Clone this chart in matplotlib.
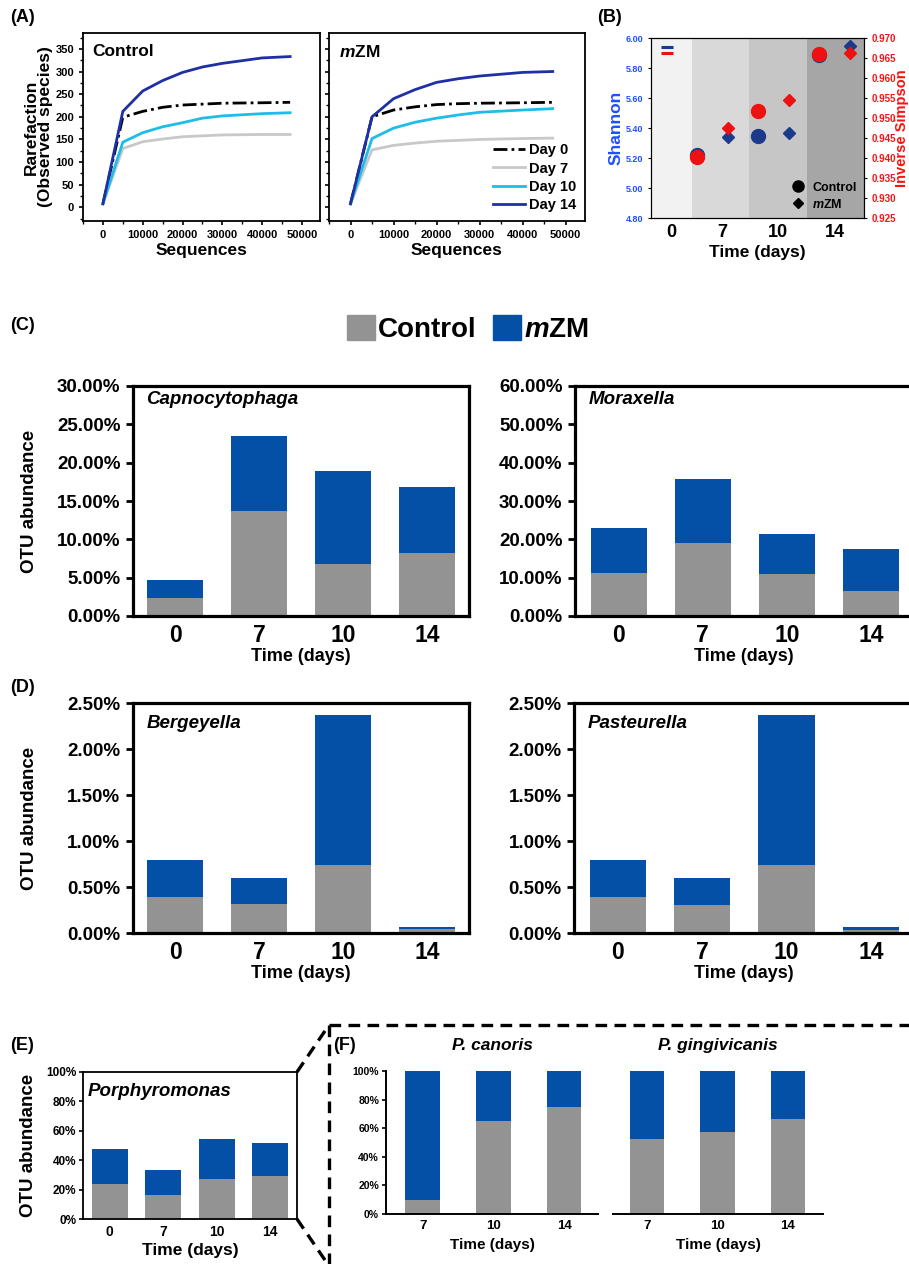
import numpy as np
import matplotlib
matplotlib.use("Agg")
import matplotlib.pyplot as plt
from matplotlib.lines import Line2D
from matplotlib.patches import Patch
from matplotlib.ticker import PercentFormatter, MultipleLocator

plt.rcParams['font.family'] = ['Liberation Sans', 'DejaVu Sans']
plt.rcParams['font.weight'] = 'bold'
plt.rcParams['axes.labelweight'] = 'bold'
plt.rcParams['mathtext.fontset'] = 'custom'
plt.rcParams['mathtext.it'] = 'Liberation Sans:italic:bold'
plt.rcParams['mathtext.rm'] = 'Liberation Sans:bold'

# ---- data ----
# (A) rarefaction curves
depth = [0, 5000, 10000, 15000, 20000, 25000, 30000, 40000, 47000]
rare_days = ['Day 0', 'Day 7', 'Day 10', 'Day 14']
ctrl_rare = {
    'Day 0': [8, 199, 212, 221, 226, 228, 230, 231, 232],
    'Day 7': [8, 130, 145, 151, 156, 158, 160, 161, 161],
    'Day 10': [8, 144, 165, 178, 187, 197, 202, 207, 209],
    'Day 14': [8, 212, 257, 280, 298, 310, 318, 330, 333],
}
mzm_rare = {
    'Day 0': [8, 200, 215, 222, 227, 229, 230, 231, 232],
    'Day 7': [8, 127, 137, 142, 146, 148, 150, 152, 153],
    'Day 10': [8, 152, 175, 188, 197, 204, 210, 215, 218],
    'Day 14': [8, 200, 240, 260, 276, 284, 290, 298, 300],
}

# (B) diversity indices
b_days = ['0', '7', '10', '14']
shannon_day0 = 5.94
simpson_day0 = 0.9663
shannon_ctrl = [5.22, 5.35, 5.885]
shannon_mzm = [5.34, 5.365, 5.945]
simpson_ctrl = [0.9402, 0.9517, 0.9661]
simpson_mzm = [0.9474, 0.9546, 0.9663]

# (C)-(E) genus abundance (%)
days = ['0', '7', '10', '14']
capno_ctrl = [2.35, 13.65, 6.78, 8.26]
capno_mzm = [2.30, 9.87, 12.18, 8.52]
morax_ctrl = [11.3, 19.1, 10.96, 6.5]
morax_mzm = [11.6, 16.55, 10.44, 10.9]
berge_ctrl = [0.39, 0.31, 0.74, 0.047]
berge_mzm = [0.40, 0.29, 1.63, 0.022]
paste_ctrl = [0.392, 0.309, 0.734, 0.036]
paste_mzm = [0.40, 0.294, 1.635, 0.029]
porph_ctrl = [23.8, 16.5, 27.4, 29.2]
porph_mzm = [23.5, 16.8, 26.7, 22.8]

# (F) species share (%)
f_days = ['7', '10', '14']
canoris_ctrl = [10, 65.2, 75]
canoris_mzm = [90, 34.8, 25]
ging_ctrl = [52.2, 57.5, 66.1]
ging_mzm = [47.8, 42.5, 33.9]

GRAY = '#939393'
BLUE = '#0450a6'
rare_colors = {'Day 0': 'black', 'Day 7': '#c8c8c8', 'Day 10': '#1cbde8', 'Day 14': '#1f2fa6'}
MZM = r'$\mathit{m}$ZM'

W, H = 909, 1264
fig = plt.figure(figsize=(W / 100, H / 100), dpi=100)


def box(l, r, t, b):
    return fig.add_axes([l / W, 1 - b / H, (r - l) / W, (b - t) / H])


# ---- (A) ----
for i, (data, name) in enumerate([(ctrl_rare, 'Control'), (mzm_rare, MZM)]):
    ax = box(83, 320, 33, 221) if i == 0 else box(329, 585, 33, 221)
    for d in rare_days:
        ls = (0, (5, 1.5, 1, 1.5)) if d == 'Day 0' else '-'
        ax.plot(depth, data[d], color=rare_colors[d], lw=2, ls=ls, label=d)
    ax.set_xlim(-5000, 54500)
    ax.set_ylim(-30, 385)
    ax.set_xticks([0, 10000, 20000, 30000, 40000, 50000])
    ax.xaxis.set_minor_locator(MultipleLocator(5000))
    ax.set_yticks(range(0, 351, 50))
    ax.yaxis.set_minor_locator(MultipleLocator(25))
    ax.tick_params(labelsize=8, length=3, width=1.2)
    ax.tick_params(which='minor', length=2, width=1.0)
    for s in ax.spines.values():
        s.set_linewidth(1.3)
    ax.text(0.04, 0.9, name, transform=ax.transAxes, fontsize=12.5, va='center')
    ax.set_xlabel('Sequences', fontsize=12.5)
    ax.xaxis.set_label_coords(0.5, -0.115)
    ax.xaxis.label.set_va('top')
    if i == 0:
        ax.set_ylabel('Rarefaction\n(Observed species)', fontsize=12.5, linespacing=0.95)
        ax.yaxis.set_label_coords(-0.127, 0.5)
    else:
        ax.set_yticklabels([])
        ax.legend(loc='lower right', frameon=False, fontsize=10.5, handlelength=2.2,
                  handletextpad=0.3, labelspacing=0.3, borderaxespad=0.2)

# ---- (B) ----
axb = box(651, 864, 38, 218)
axb.set_xlim(-0.52, 6.46)
band_edges = [-0.52, 0.82, 2.69, 4.59, 6.46]
band_colors = ['#f2f2f2', '#d9d9d9', '#c6c6c6', '#a6a6a6']
for k, c in enumerate(band_colors):
    axb.axvspan(band_edges[k], band_edges[k + 1], color=c, lw=0, zorder=0)
axb.set_xticks([0.15, 1.80, 3.64, 5.52], b_days)
axb.set_ylim(4.80, 6.00)
axb.set_yticks(np.arange(4.8, 6.01, 0.2))
axb.yaxis.set_major_formatter(lambda v, p: f'{v:.2f}')
axb.tick_params(axis='y', labelsize=6.5, labelcolor='#1f4fff', length=2)
axb.tick_params(axis='x', labelsize=13, length=0, pad=4)
axb.set_ylabel('Shannon', color='#1f4fff', fontsize=12.5)
axb.yaxis.set_label_coords(-0.127, 0.5)
axb.set_xlabel('Time (days)', fontsize=12.5)
axb.xaxis.set_label_coords(0.5, -0.15)
axb.xaxis.label.set_va('top')

axr = axb.twinx()
axr.set_ylim(0.925, 0.970)
axr.set_yticks(np.arange(0.925, 0.9701, 0.005))
axr.yaxis.set_major_formatter(lambda v, p: f'{v:.3f}')
axr.tick_params(axis='y', labelsize=7, labelcolor='#ff1010', length=2)
axr.set_ylabel('Inverse Simpson', color='#ff1010', fontsize=10.5, rotation=90)
axr.yaxis.set_label_coords(1.145, 0.5)

slot_ctrl = 1 + 2 * np.arange(len(shannon_ctrl))
slot_mzm = slot_ctrl + 1
navy, red = '#1c3a8c', '#ee1111'
axb.plot([0], [shannon_day0], ls='none', marker='_', ms=9, mew=2.2, color=navy)
axb.plot(slot_ctrl, shannon_ctrl, ls='none', marker='o', ms=10, color=navy)
axb.plot(slot_mzm, shannon_mzm, ls='none', marker='D', ms=6, color=navy)
axr.plot([0], [simpson_day0], ls='none', marker='_', ms=9, mew=2.2, color=red)
axr.plot(slot_ctrl, simpson_ctrl, ls='none', marker='o', ms=10, color=red)
axr.plot(slot_mzm, simpson_mzm, ls='none', marker='D', ms=6, color=red)
handles = [Line2D([], [], ls='none', marker='o', ms=8, color='black'),
           Line2D([], [], ls='none', marker='D', ms=5, color='black')]
axr.legend(handles, ['Control', MZM], loc='lower right', frameon=False, fontsize=9,
           handletextpad=0.1, labelspacing=0.3, borderaxespad=0.4, borderpad=0.2)

# ---- bar panels ----


def stacked(ax, cats, ctrl, mzm, width, ymax, dec):
    x = np.arange(len(cats))
    ax.bar(x, ctrl, width, color=GRAY, lw=0)
    ax.bar(x, mzm, width, bottom=ctrl, color=BLUE, lw=0)
    ax.set_xticks(x, cats)
    ax.set_ylim(0, ymax)
    ax.yaxis.set_major_formatter(PercentFormatter(100, decimals=dec))
    return x


big = [(box(133, 469, 386, 616), 'Capnocytophaga', capno_ctrl, capno_mzm, 30, 5, 0.94),
       (box(575, 913, 386, 616), 'Moraxella', morax_ctrl, morax_mzm, 60, 10, 0.94),
       (box(133, 469, 703, 933), 'Bergeyella', berge_ctrl, berge_mzm, 2.5, 0.5, 0.913),
       (box(574, 913, 703, 933), 'Pasteurella', paste_ctrl, paste_mzm, 2.5, 0.5, 0.913)]
for j, (ax, name, c, m, ymax, step, ty) in enumerate(big):
    stacked(ax, days, c, m, 0.67, ymax, 2)
    ax.set_xlim(-0.5 if j % 2 == 0 else -0.52, 3.5)
    ax.set_yticks(np.arange(0, ymax + step / 2, step))
    ax.tick_params(axis='y', labelsize=13.5, length=5, width=2, pad=4)
    ax.tick_params(axis='x', labelsize=16.5, length=0, pad=6)
    for s in ax.spines.values():
        s.set_linewidth(2.3)
    ax.text(0.04, ty, name, transform=ax.transAxes, fontsize=13.5, style='italic', va='center')
    ax.set_xlabel('Time (days)', fontsize=13)
    ax.xaxis.set_label_coords(0.5, -0.14)
    ax.xaxis.label.set_va('top')
    if j % 2 == 0:
        ax.set_ylabel('OTU abundance', fontsize=13.5)
        ax.yaxis.set_label_coords(-0.283, 0.5)

fig.legend([Patch(color=GRAY), Patch(color=BLUE)], ['Control', MZM],
           loc='center', bbox_to_anchor=(468 / W, 1 - 329 / H), ncol=2, frameon=False,
           fontsize=20, handlelength=1.0, handleheight=1.0, handletextpad=0.1,
           columnspacing=0.6)

# ---- (E) ----
axe = box(83, 297, 1072, 1219)
stacked(axe, days, porph_ctrl, porph_mzm, 0.68, 100, 0)
axe.set_xlim(-0.5, 3.5)
axe.set_yticks(range(0, 101, 20))
axe.tick_params(axis='y', labelsize=8.5, length=3, width=1.2, pad=2)
axe.tick_params(axis='x', labelsize=10, length=0, pad=4)
for s in axe.spines.values():
    s.set_linewidth(1.3)
axe.text(0.02, 0.87, 'Porphyromonas', transform=axe.transAxes, fontsize=13.5,
         style='italic', va='center')
axe.set_xlabel('Time (days)', fontsize=12.5)
axe.xaxis.set_label_coords(0.5, -0.16)
axe.xaxis.label.set_va('top')
axe.set_ylabel('OTU abundance', fontsize=13.5)
axe.yaxis.set_label_coords(-0.215, 0.5)

# ---- (F) ----
f_axes = [(box(386, 598, 1071, 1214), 'P. canoris', canoris_ctrl, canoris_mzm, (-0.52, 2.48)),
          (box(613, 823, 1071, 1214), 'P. gingivicanis', ging_ctrl, ging_mzm, (-0.48, 2.5))]
for j, (ax, name, c, m, xl) in enumerate(f_axes):
    stacked(ax, f_days, c, m, 0.49, 100, 0)
    ax.set_xlim(*xl)
    ax.set_yticks(range(0, 101, 20))
    ax.spines[['top', 'right']].set_visible(False)
    ax.spines['bottom'].set_linewidth(1.4)
    ax.spines['left'].set_linewidth(1.4)
    ax.tick_params(axis='y', labelsize=7.5, length=3, width=1.2, pad=2)
    ax.tick_params(axis='x', labelsize=9.5, length=0, pad=4)
    ax.set_xlabel('Time (days)', fontsize=11)
    ax.xaxis.set_label_coords(0.5, -0.165)
    ax.xaxis.label.set_va('top')
    ax.text(0.5, 1.18, name, transform=ax.transAxes, fontsize=12.5, style='italic',
            ha='center', va='center')
    if j == 1:
        ax.spines['left'].set_visible(False)
        ax.tick_params(axis='y', left=False, labelleft=False)

# ---- zoom frame between (E) and (F) ----
dash = dict(color='black', lw=2.4, ls=(0, (3.5, 2.2)), transform=fig.transFigure)
for xs, ys in [([329, 909], [1025, 1025]), ([329, 329], [1025, 1264]),
               ([297, 329], [1072, 1025]), ([297, 329], [1219, 1266])]:
    fig.add_artist(Line2D([x / W for x in xs], [1 - y / H for y in ys], **dash))

# ---- panel letters ----
for lab, x, y in [('(A)', 10, 18), ('(B)', 597, 18), ('(C)', 10, 326), ('(D)', 10, 688),
                  ('(E)', 10, 1045), ('(F)', 333, 1045)]:
    fig.text(x / W, 1 - y / H, lab, fontsize=13, va='center')

fig.savefig('out.png', dpi=100)
